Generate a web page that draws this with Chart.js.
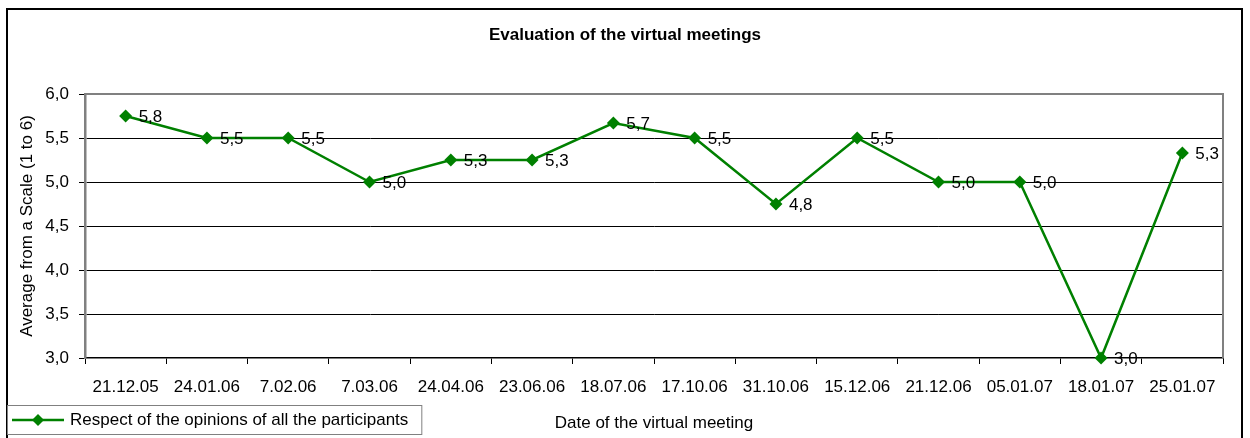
<html lang="en">
<head>
    <meta charset="UTF-8">
    <title>Evaluation of the virtual meetings</title>
    <script src="https://cdn.jsdelivr.net/npm/chart.js"></script>
    <style>
        body { margin: 0; background: #fff; }
        #wrap { position: relative; width: 1250px; height: 438px; }
    </style>
</head>
<body>
    <div id="wrap">
        <canvas id="meetings-chart"></canvas>
    </div>

    <script>
        // Data
        const chartTitle = 'Evaluation of the virtual meetings';
        const seriesName = 'Respect of the opinions of all the participants';
        const meetingDates = ['21.12.05', '24.01.06', '7.02.06', '7.03.06', '24.04.06', '23.06.06', '18.07.06',
                              '17.10.06', '31.10.06', '15.12.06', '21.12.06', '05.01.07', '18.01.07', '25.01.07'];
        const respectScores = [5.75, 5.5, 5.5, 5.0, 5.25, 5.25, 5.67, 5.5, 4.75, 5.5, 5.0, 5.0, 3.0, 5.33];
        const yMin = 3, yMax = 6, yStep = 0.5;

        const FONT = "'Liberation Sans', Arial, sans-serif";
        const GREEN = '#008000';
        const fmt = v => Number(v).toFixed(1).replace('.', ',');

        // Frame, title, plot border, point labels and legend box
        const decorations = {
            id: 'decorations',
            beforeDraw(chart) {
                const ctx = chart.ctx;
                ctx.save();
                ctx.fillStyle = '#fff';
                ctx.fillRect(0, 0, chart.width, chart.height);
                ctx.strokeStyle = '#000';
                ctx.lineWidth = 2;
                ctx.strokeRect(7, 9, 1235, 440);
                ctx.fillStyle = '#000';
                ctx.font = 'bold 17px ' + FONT;
                ctx.textAlign = 'center';
                ctx.textBaseline = 'middle';
                ctx.fillText(chartTitle, 625, 35);
                ctx.restore();
            },
            afterDatasetsDraw(chart) {
                const ctx = chart.ctx;
                const a = chart.chartArea;
                ctx.save();
                // gray top and right plot border
                ctx.strokeStyle = '#808080';
                ctx.lineWidth = 2;
                ctx.beginPath();
                ctx.moveTo(a.left, a.top);
                ctx.lineTo(a.right, a.top);
                ctx.lineTo(a.right, a.bottom);
                ctx.stroke();

                // value labels
                const meta = chart.getDatasetMeta(0);
                ctx.fillStyle = '#000';
                ctx.font = '17px ' + FONT;
                ctx.textAlign = 'left';
                ctx.textBaseline = 'middle';
                meta.data.forEach((pt, i) => {
                    ctx.fillText(fmt(respectScores[i]), pt.x + 13, pt.y + 1);
                });

                // legend box
                const lx = 7, ly = 405;
                ctx.font = '17px ' + FONT;
                const tw = ctx.measureText(seriesName).width;
                ctx.strokeStyle = '#808080';
                ctx.lineWidth = 1;
                ctx.fillStyle = '#fff';
                ctx.fillRect(lx, ly, 64 + tw + 12, 29);
                ctx.strokeRect(lx + 0.5, ly + 0.5, 64 + tw + 12, 29);
                ctx.strokeStyle = GREEN;
                ctx.lineWidth = 2.5;
                ctx.beginPath();
                ctx.moveTo(lx + 5, ly + 15);
                ctx.lineTo(lx + 57, ly + 15);
                ctx.stroke();
                ctx.fillStyle = GREEN;
                ctx.beginPath();
                ctx.moveTo(lx + 31, ly + 9);
                ctx.lineTo(lx + 37, ly + 15);
                ctx.lineTo(lx + 31, ly + 21);
                ctx.lineTo(lx + 25, ly + 15);
                ctx.closePath();
                ctx.fill();
                ctx.fillStyle = '#000';
                ctx.fillText(seriesName, lx + 63, ly + 15.5);
                ctx.restore();
            }
        };

        function createMeetingsChart() {
            const ctx = document.getElementById('meetings-chart').getContext('2d');
            new Chart(ctx, {
                type: 'line',
                data: {
                    labels: meetingDates,
                    datasets: [{
                        label: seriesName,
                        data: respectScores,
                        borderColor: GREEN,
                        backgroundColor: GREEN,
                        borderWidth: 2.5,
                        tension: 0,
                        pointStyle: 'rectRot',
                        pointRadius: 6.5,
                        pointBorderWidth: 0,
                        pointBackgroundColor: GREEN,
                        clip: false
                    }]
                },
                options: {
                    responsive: true,
                    maintainAspectRatio: false,
                    animation: false,
                    layout: { padding: { left: 7, right: 27, top: 94, bottom: 0 } },
                    plugins: {
                        legend: { display: false },
                        title: { display: false },
                        tooltip: { enabled: false }
                    },
                    scales: {
                        x: {
                            offset: true,
                            afterFit: s => { s.height = 80; },
                            grid: {
                                offset: true,
                                drawOnChartArea: false,
                                tickLength: 6,
                                tickColor: '#000'
                            },
                            border: { color: '#000', width: 1.5 },
                            ticks: {
                                color: '#000',
                                font: { family: FONT, size: 17 },
                                padding: 13,
                                maxRotation: 0,
                                autoSkip: false
                            },
                            title: {
                                display: true,
                                text: 'Date of the virtual meeting',
                                color: '#000',
                                font: { family: FONT, size: 17 },
                                padding: { top: 0, bottom: 4 }
                            }
                        },
                        y: {
                            min: yMin,
                            max: yMax,
                            afterFit: s => { s.width = 78; },
                            grid: {
                                color: c => (c.tick && (c.tick.value === yMin || c.tick.value === yMax)) ? 'rgba(0,0,0,0)' : '#000',
                                lineWidth: 1,
                                tickLength: 6,
                                tickColor: '#000'
                            },
                            border: { color: '#808080', width: 2.5 },
                            ticks: {
                                stepSize: yStep,
                                color: '#000',
                                font: { family: FONT, size: 17 },
                                padding: 10,
                                callback: v => fmt(v)
                            },
                            title: {
                                display: true,
                                text: 'Average from a Scale (1 to 6)',
                                color: '#000',
                                font: { family: FONT, size: 17 },
                                padding: { top: 10, bottom: 0 }
                            }
                        }
                    }
                },
                plugins: [decorations]
            });
        }

        createMeetingsChart();
    </script>
</body>
</html>
